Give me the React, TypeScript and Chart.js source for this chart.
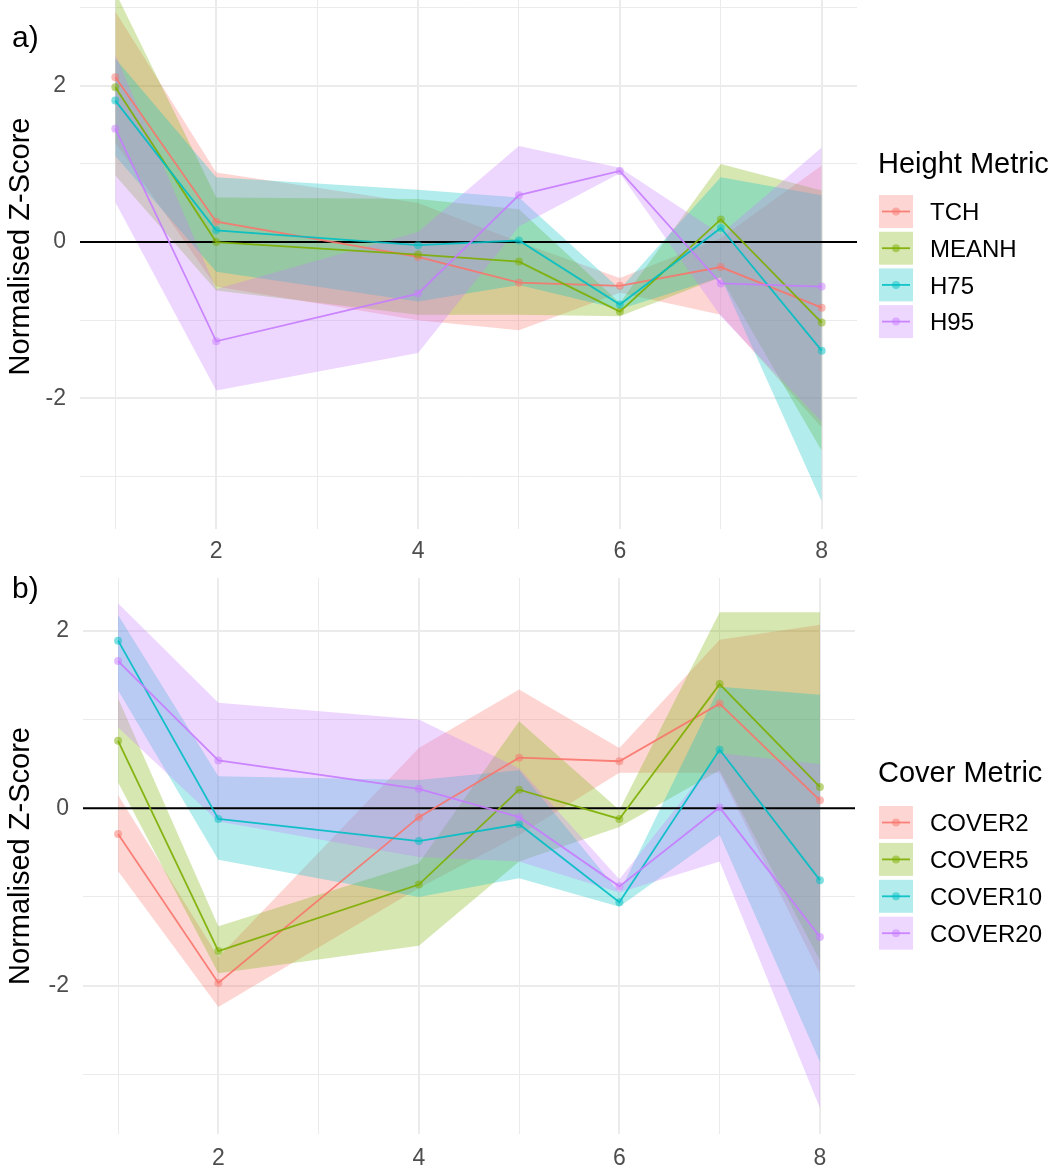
import React, { useEffect, useRef } from 'react';
import { Chart, registerables } from 'chart.js';

Chart.register(...registerables);

const FONT = '"Liberation Sans", Arial, Helvetica, sans-serif';

// ---------- shared axes ----------
const X_VALUES = [1, 2, 4, 5, 6, 7, 8];
const X_GRID = [1, 2, 3, 4, 5, 6, 7, 8];
const X_LABELLED = [2, 4, 6, 8];
const Y_GRID = [-3, -2, -1, 0, 1, 2, 3];
const Y_LABELLED = [-2, 0, 2];
const COLORS = ['#F8766D', '#7CAE00', '#00BFC4', '#C77CFF'];

// ---------- panel a: height metrics ----------
const HEIGHT_METRICS = ['TCH', 'MEANH', 'H75', 'H95'];
const TCH_MEAN = [2.11, 0.26, -0.19, -0.52, -0.56, -0.32, -0.84];
const TCH_UPPER = [2.95, 0.89, 0.5, 0.0, -0.46, 0.05, 0.98];
const TCH_LOWER = [1.27, -0.57, -1.0, -1.13, -0.65, -0.93, -2.37];
const MEANH_MEAN = [1.98, 0.0, -0.16, -0.25, -0.89, 0.29, -1.03];
const MEANH_UPPER = [3.2, 0.57, 0.55, 0.42, -0.78, 1.0, 0.66];
const MEANH_LOWER = [0.85, -0.62, -0.93, -0.93, -0.95, -0.45, -2.67];
const H75_MEAN = [1.81, 0.15, -0.04, 0.02, -0.8, 0.18, -1.39];
const H75_UPPER = [2.35, 0.83, 0.67, 0.57, -0.6, 0.83, 0.6];
const H75_LOWER = [1.1, -0.38, -0.76, -0.55, -0.86, -0.45, -3.32];
const H95_MEAN = [1.45, -1.27, -0.66, 0.6, 0.91, -0.53, -0.57];
const H95_UPPER = [2.4, -0.6, 0.13, 1.23, 0.95, 0.1, 1.21];
const H95_LOWER = [0.51, -1.9, -1.42, 0.2, 0.88, -0.95, -2.3];

// ---------- panel b: cover metrics ----------
const COVER_METRICS = ['COVER2', 'COVER5', 'COVER10', 'COVER20'];
const COVER2_MEAN = [-0.29, -1.97, -0.1, 0.57, 0.53, 1.18, 0.09];
const COVER2_UPPER = [0.15, -1.68, 0.68, 1.34, 0.68, 1.9, 2.07];
const COVER2_LOWER = [-0.71, -2.24, -0.9, -0.3, 0.4, 0.4, -1.86];
const COVER5_MEAN = [0.76, -1.61, -0.86, 0.21, -0.12, 1.4, 0.24];
const COVER5_UPPER = [1.24, -1.33, -0.62, 0.98, -0.02, 2.21, 2.21];
const COVER5_LOWER = [0.29, -1.86, -1.55, -0.6, -0.21, 0.43, -1.71];
const COVER10_MEAN = [1.89, -0.12, -0.37, -0.18, -1.06, 0.66, -0.81];
const COVER10_UPPER = [2.18, 0.36, 0.32, 0.43, -0.95, 1.37, 1.28];
const COVER10_LOWER = [1.33, -0.58, -1.0, -0.79, -1.11, -0.3, -2.86];
const COVER20_MEAN = [1.66, 0.54, 0.22, -0.1, -0.88, 0.01, -1.45];
const COVER20_UPPER = [2.31, 1.19, 1.0, 0.45, -0.8, 0.62, 0.5];
const COVER20_LOWER = [0.91, -0.15, -0.55, -0.6, -0.95, -0.6, -3.38];

type Series = { name: string; mean: number[]; upper: number[]; lower: number[] };

const HEIGHT_SERIES: Series[] = [
  { name: HEIGHT_METRICS[0], mean: TCH_MEAN, upper: TCH_UPPER, lower: TCH_LOWER },
  { name: HEIGHT_METRICS[1], mean: MEANH_MEAN, upper: MEANH_UPPER, lower: MEANH_LOWER },
  { name: HEIGHT_METRICS[2], mean: H75_MEAN, upper: H75_UPPER, lower: H75_LOWER },
  { name: HEIGHT_METRICS[3], mean: H95_MEAN, upper: H95_UPPER, lower: H95_LOWER },
];
const COVER_SERIES: Series[] = [
  { name: COVER_METRICS[0], mean: COVER2_MEAN, upper: COVER2_UPPER, lower: COVER2_LOWER },
  { name: COVER_METRICS[1], mean: COVER5_MEAN, upper: COVER5_UPPER, lower: COVER5_LOWER },
  { name: COVER_METRICS[2], mean: COVER10_MEAN, upper: COVER10_UPPER, lower: COVER10_LOWER },
  { name: COVER_METRICS[3], mean: COVER20_MEAN, upper: COVER20_UPPER, lower: COVER20_LOWER },
];

const RIBBON_ALPHA = 0.3;
const LINE_ALPHA = 0.9;
const POINT_ALPHA = 0.5;

function rgba(hex: string, a: number) {
  const h = hex.replace('#', '');
  const r = parseInt(h.slice(0, 2), 16);
  const g = parseInt(h.slice(2, 4), 16);
  const b = parseInt(h.slice(4, 6), 16);
  return `rgba(${r},${g},${b},${a})`;
}

type PanelSpec = {
  series: Series[];
  legendTitle: string;
  tag: string;
  canvasTop: number;
  canvasHeight: number;
  padTop: number;
  padRight: number;
  yMin: number;
  yMax: number;
  yAxisWidth: number;
  xAxisHeight: number;
  xTickPad: number;
  tagBaseline: number;
  legendTitleBaseline: number;
  keyTop: number;
  keyStep: number;
};

const PANEL_A: PanelSpec = {
  series: HEIGHT_SERIES,
  legendTitle: 'Height Metric',
  tag: 'a)',
  canvasTop: -40,
  canvasHeight: 615,
  padTop: 0,
  padRight: 203,
  yMin: -3.672,
  yMax: 3.558,
  yAxisWidth: 80,
  xAxisHeight: 46,
  xTickPad: 9,
  tagBaseline: 86.7,
  legendTitleBaseline: 213.3,
  keyTop: 235,
  keyStep: 36.7,
};

const PANEL_B: PanelSpec = {
  series: COVER_SERIES,
  legendTitle: 'Cover Metric',
  tag: 'b)',
  canvasTop: 570,
  canvasHeight: 603,
  padTop: 8,
  padRight: 205,
  yMin: -3.672,
  yMax: 2.596,
  yAxisWidth: 83,
  xAxisHeight: 39,
  xTickPad: 11,
  tagBaseline: 28,
  legendTitleBaseline: 211.7,
  keyTop: 236,
  keyStep: 36.9,
};

function buildDatasets(series: Series[]) {
  const ds: any[] = [];
  // reversed so the last series is drawn on top (Chart.js paints index 0 last)
  for (let i = series.length - 1; i >= 0; i--) {
    const s = series[i];
    const c = COLORS[i];
    ds.push({
      label: s.name + ' upper',
      data: X_VALUES.map((x, k) => ({ x, y: s.upper[k] })),
      borderWidth: 0,
      borderColor: 'transparent',
      pointRadius: 0,
      fill: false,
      tension: 0,
    });
    ds.push({
      label: s.name + ' lower',
      data: X_VALUES.map((x, k) => ({ x, y: s.lower[k] })),
      borderWidth: 0,
      borderColor: 'transparent',
      backgroundColor: rgba(c, RIBBON_ALPHA),
      pointRadius: 0,
      fill: '-1',
      tension: 0,
    });
    ds.push({
      label: s.name,
      data: X_VALUES.map((x, k) => ({ x, y: s.mean[k] })),
      borderColor: rgba(c, LINE_ALPHA),
      borderWidth: 1.8,
      pointRadius: 4,
      pointBorderWidth: 0,
      pointBackgroundColor: rgba(c, POINT_ALPHA),
      fill: false,
      tension: 0,
    });
  }
  return ds;
}

function decorPlugin(spec: PanelSpec) {
  return {
    id: 'panelDecor',
    beforeDatasetsDraw(chart: any) {
      const { ctx, chartArea } = chart;
      const y0 = chart.scales.y.getPixelForValue(0);
      ctx.save();
      ctx.strokeStyle = '#000000';
      ctx.lineWidth = 2;
      ctx.beginPath();
      ctx.moveTo(chartArea.left, y0);
      ctx.lineTo(chartArea.right, y0);
      ctx.stroke();
      ctx.restore();
    },
    afterDraw(chart: any) {
      const ctx = chart.ctx;
      ctx.save();
      ctx.textAlign = 'left';
      ctx.textBaseline = 'alphabetic';
      ctx.fillStyle = '#000000';
      ctx.font = `30px ${FONT}`;
      ctx.fillText(spec.tag, 12, spec.tagBaseline);
      ctx.font = `29px ${FONT}`;
      ctx.fillText(spec.legendTitle, 878, spec.legendTitleBaseline);
      spec.series.forEach((s, i) => {
        const c = COLORS[i];
        const top = spec.keyTop + i * spec.keyStep;
        const x = 879;
        const w = 34;
        const h = 33;
        const cy = top + h / 2;
        ctx.fillStyle = rgba(c, RIBBON_ALPHA);
        ctx.fillRect(x, top, w, h);
        ctx.strokeStyle = rgba(c, LINE_ALPHA);
        ctx.lineWidth = 1.8;
        ctx.beginPath();
        ctx.moveTo(x + 3, cy);
        ctx.lineTo(x + w - 3, cy);
        ctx.stroke();
        ctx.fillStyle = rgba(c, POINT_ALPHA);
        ctx.beginPath();
        ctx.arc(x + w / 2, cy, 4, 0, Math.PI * 2);
        ctx.fill();
        ctx.fillStyle = '#000000';
        ctx.font = `24px ${FONT}`;
        ctx.fillText(s.name, 930, cy + 8.6);
      });
      ctx.restore();
    },
  };
}

function buildConfig(spec: PanelSpec): any {
  return {
    type: 'line',
    data: { datasets: buildDatasets(spec.series) },
    options: {
      responsive: false,
      maintainAspectRatio: false,
      animation: false,
      devicePixelRatio: 1,
      events: [],
      layout: { padding: { left: 0, right: spec.padRight, top: spec.padTop, bottom: 0 } },
      plugins: {
        legend: { display: false },
        tooltip: { enabled: false },
        title: { display: false },
        filler: { drawTime: 'beforeDatasetsDraw', propagate: false },
      },
      scales: {
        x: {
          type: 'linear',
          min: 0.65,
          max: 8.35,
          border: { display: false },
          grid: {
            color: '#EBEBEB',
            drawTicks: false,
            lineWidth: (ctx: any) => (ctx.tick && X_LABELLED.includes(ctx.tick.value) ? 2 : 1),
          },
          ticks: {
            autoSkip: false,
            maxRotation: 0,
            padding: spec.xTickPad,
            color: '#4D4D4D',
            font: { size: 23, family: FONT },
            callback: (v: any) => (X_LABELLED.includes(v) ? String(v) : ''),
          },
          afterBuildTicks: (s: any) => {
            s.ticks = X_GRID.map((v) => ({ value: v }));
          },
          afterFit: (s: any) => {
            s.height = spec.xAxisHeight;
            s.paddingLeft = 0;
            s.paddingRight = 0;
          },
        },
        y: {
          type: 'linear',
          min: spec.yMin,
          max: spec.yMax,
          border: { display: false },
          grid: {
            color: '#EBEBEB',
            drawTicks: false,
            lineWidth: (ctx: any) => (ctx.tick && Y_LABELLED.includes(ctx.tick.value) ? 2 : 1),
          },
          ticks: {
            autoSkip: false,
            padding: 14,
            color: '#4D4D4D',
            font: { size: 23, family: FONT },
            callback: (v: any) => (Y_LABELLED.includes(v) ? String(v) : ''),
          },
          title: {
            display: true,
            text: 'Normalised Z-Score',
            color: '#000000',
            font: { size: 29, family: FONT },
            padding: { top: 4, bottom: 0 },
          },
          afterBuildTicks: (s: any) => {
            s.ticks = Y_GRID.map((v) => ({ value: v }));
          },
          afterFit: (s: any) => {
            s.width = spec.yAxisWidth;
            s.paddingTop = 0;
            s.paddingBottom = 0;
          },
        },
      },
    },
    plugins: [decorPlugin(spec)],
  };
}

function PanelChart({ spec }: { spec: PanelSpec }) {
  const ref = useRef<HTMLCanvasElement | null>(null);
  useEffect(() => {
    if (!ref.current) return;
    const chart = new Chart(ref.current, buildConfig(spec));
    return () => chart.destroy();
  }, [spec]);
  return (
    <canvas
      ref={ref}
      width={1060}
      height={spec.canvasHeight}
      style={{
        position: 'absolute',
        left: 0,
        top: spec.canvasTop,
        width: 1060,
        height: spec.canvasHeight,
        display: 'block',
      }}
    />
  );
}

export default function App() {
  return (
    <div
      style={{
        position: 'absolute',
        left: 0,
        top: 0,
        width: 1060,
        height: 1173,
        overflow: 'hidden',
        background: '#ffffff',
      }}
    >
      <PanelChart spec={PANEL_A} />
      <PanelChart spec={PANEL_B} />
    </div>
  );
}
